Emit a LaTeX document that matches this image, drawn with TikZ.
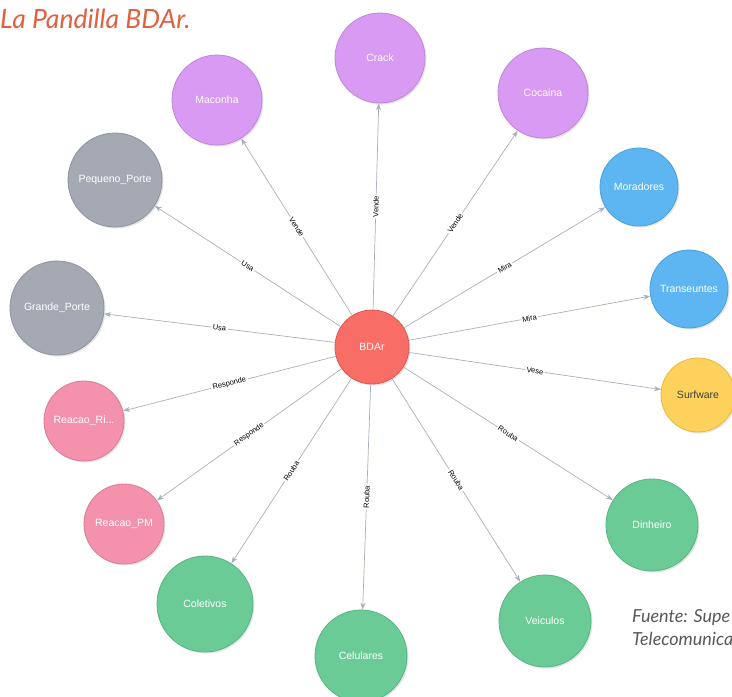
\documentclass[tikz,border=0pt]{standalone}
\usepackage{fontspec}
\setmainfont{Liberation Sans}
\newfontfamily\titlefont{Lato}
\usetikzlibrary{arrows.meta,shadows}

\definecolor{purpleN}{HTML}{D89AF2}
\definecolor{purpleB}{HTML}{C184DA}
\definecolor{grayN}{HTML}{A4A9B4}
\definecolor{grayB}{HTML}{8E939E}
\definecolor{blueN}{HTML}{5DB6F2}
\definecolor{blueB}{HTML}{4BA0DB}
\definecolor{yellowN}{HTML}{FCD25C}
\definecolor{yellowB}{HTML}{E6B93D}
\definecolor{pinkN}{HTML}{F492AD}
\definecolor{pinkB}{HTML}{DA7A95}
\definecolor{greenN}{HTML}{6BCB96}
\definecolor{greenB}{HTML}{57B583}
\definecolor{redN}{HTML}{F86D66}
\definecolor{redB}{HTML}{DF5650}
\definecolor{edgeC}{HTML}{A9B0BD}
\definecolor{titleC}{HTML}{E0603F}

\tikzset{
    thing/.style={circle, draw, line width=0.8pt, inner sep=0pt, text=white,
        font=\fontsize{10.5}{12}\selectfont,
        drop shadow={opacity=0.2, shadow xshift=1.5pt, shadow yshift=-1.5pt}},
    purp/.style={thing, fill=purpleN, draw=purpleB, minimum size=90pt},
    grey/.style={thing, fill=grayN, draw=grayB, minimum size=94pt},
    blu/.style={thing, fill=blueN, draw=blueB, minimum size=78pt},
    pnk/.style={thing, fill=pinkN, draw=pinkB, minimum size=80pt},
    grn/.style={thing, fill=greenN, draw=greenB, minimum size=92pt},
    rel/.style={draw=edgeC, line width=0.7pt, -{Stealth[length=7pt,width=5pt]}},
    lbl/.style={midway, sloped, fill=white, inner sep=1.5pt, text=black,
        font=\fontsize{7.5}{9}\selectfont}
}

\begin{document}
\begin{tikzpicture}[x=1pt, y=-1pt]
    \useasboundingbox[fill=white] (0,0) rectangle (732,697);

    % Title and source
    \node[anchor=base west, inner sep=0pt, text=titleC, font=\titlefont\itshape\fontsize{26.5}{30}\selectfont]
        (title) at (0,28) {La Pandilla BDAr.};
    \node[anchor=base west, inner sep=0pt, align=left, text=black!65, font=\titlefont\itshape\fontsize{18}{23}\selectfont]
        (fuente) at (632,645) {Fuente: Supe\\Telecomunica};

    % Draw the gang
    \node[thing, fill=redN, draw=redB, minimum size=74pt] (BDAr) at (372,347) {BDAr};

    % Draw the drugs
    \node[purp] (Crack) at (380,58) {Crack};
    \node[purp] (Maconha) at (217,100) {Maconha};
    \node[purp] (Cocaina) at (543,93) {Cocaina};

    % Draw the weapons
    \node[grey] (Pequeno) at (115,180) {Pequeno\_Porte};
    \node[grey] (Grande) at (57,308) {Grande\_Porte};

    % Draw the people watched
    \node[blu] (Moradores) at (639,187) {Moradores};
    \node[blu] (Transeuntes) at (689,289) {Transeuntes};
    \node[thing, fill=yellowN, draw=yellowB, minimum size=74pt, text=black!75] (Surfware) at (698,395) {Surfware};

    % Draw the reactions
    \node[pnk] (ReacaoRi) at (84,421) {Reacao\_Ri...};
    \node[pnk] (ReacaoPM) at (124,524) {Reacao\_PM};

    % Draw the loot
    \node[grn] (Dinheiro) at (652,525) {Dinheiro};
    \node[grn, minimum size=96pt] (Coletivos) at (205,604) {Coletivos};
    \node[grn] (Celulares) at (361,656) {Celulares};
    \node[grn] (Veiculos) at (545,621) {Veiculos};

    % Draw the relations
    \draw[rel] (BDAr) -- (Crack) node[lbl]{Vende};
    \draw[rel] (BDAr) -- (Maconha) node[lbl]{Vende};
    \draw[rel] (BDAr) -- (Cocaina) node[lbl]{Vende};
    \draw[rel] (BDAr) -- (Pequeno) node[lbl]{Usa};
    \draw[rel] (BDAr) -- (Grande) node[lbl]{Usa};
    \draw[rel] (BDAr) -- (Moradores) node[lbl]{Mira};
    \draw[rel] (BDAr) -- (Transeuntes) node[lbl]{Mira};
    \draw[rel] (BDAr) -- (Surfware) node[lbl]{Vese};
    \draw[rel] (BDAr) -- (ReacaoRi) node[lbl]{Responde};
    \draw[rel] (BDAr) -- (ReacaoPM) node[lbl]{Responde};
    \draw[rel] (BDAr) -- (Dinheiro) node[lbl]{Rouba};
    \draw[rel] (BDAr) -- (Veiculos) node[lbl]{Rouba};
    \draw[rel] (BDAr) -- (Celulares) node[lbl]{Rouba};
    \draw[rel] (BDAr) -- (Coletivos) node[lbl]{Rouba};
\end{tikzpicture}
\end{document}
